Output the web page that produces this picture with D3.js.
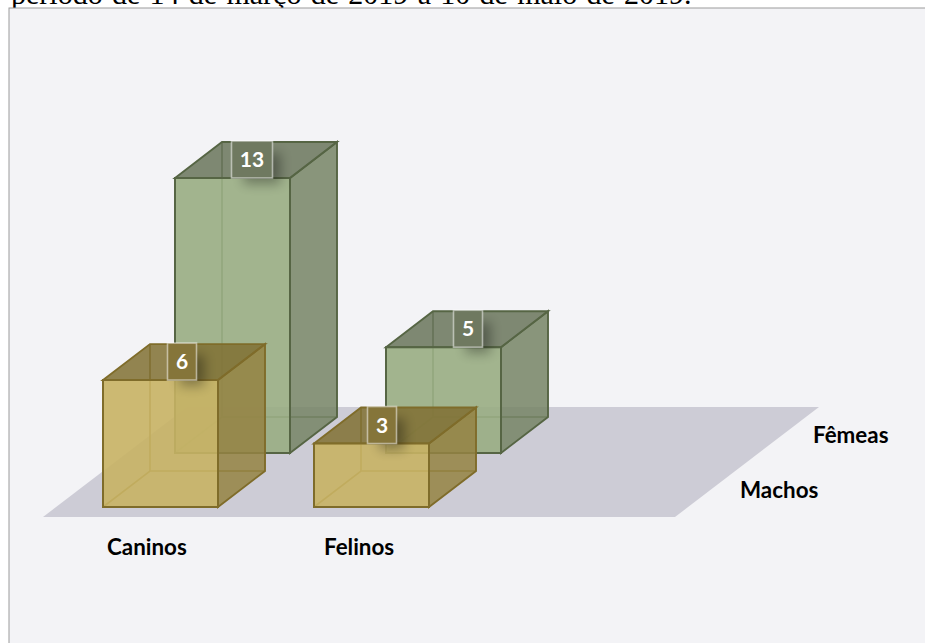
<!DOCTYPE html>
<html>
<head>
<meta charset="utf-8">
<script src="https://cdn.jsdelivr.net/npm/d3@7/dist/d3.min.js"></script>
<style>
    html, body { margin: 0; padding: 0; background: #fff; }
    svg { display: block; }
    .axis-label { font-family: Lato, sans-serif; font-weight: 700; font-size: 22.4px; fill: #000; }
    .value-label { font-family: Lato, sans-serif; font-weight: 700; font-size: 21px; fill: #fff; text-anchor: middle; }
</style>
</head>
<body>
<div id="chart"></div>
<script>
// --- Data ---
const categories = ["Caninos", "Felinos"];
const series = ["Fêmeas", "Machos"];      // back row first, so it draws first
const femeas = [13, 5];
const machos = [6, 3];
const title = "período de 14 de março de 2019 a 10 de maio de 2019.";

const valuesBySeries = { "Fêmeas": femeas, "Machos": machos };

const colors = {
    "Fêmeas": { front: "#99ad83", side: "#758465", top: "#69745a", edge: "#566544" },
    "Machos": { front: "#c8b264", side: "#948342", top: "#807032", edge: "#7f6c2a" }
};

// --- Layout ---
const width = 925, height = 643;
const svg = d3.select("#chart").append("svg").attr("width", width).attr("height", height);

// x of the front-left corner, per category
const x = d3.scalePoint().domain(categories).range([103, 314]);
// bar height
const h = d3.scaleLinear().domain([0, 13]).range([0, 275]);
// depth row: front row sits at the base line, back row is shifted up and right
const rowX = d3.scalePoint().domain(["Machos", "Fêmeas"]).range([0, 72]);
const rowY = d3.scalePoint().domain(["Machos", "Fêmeas"]).range([507, 453]);

const barW = 115, depthX = 47, depthY = -36;
const poly = pts => "M" + pts.map(p => p.join(",")).join("L") + "Z";

const defs = svg.append("defs");
defs.append("filter").attr("id", "soft").attr("x", "-80%").attr("y", "-80%").attr("width", "260%").attr("height", "260%")
    .append("feGaussianBlur").attr("stdDeviation", 6);

// --- Title (cut off by the chart frame, as in the source document) ---
svg.append("text").attr("x", 11).attr("y", 4)
    .attr("font-family", "'Liberation Serif', serif").attr("font-size", 30)
    .attr("word-spacing", 1.8).attr("fill", "#000").text(title);

// --- Frame ---
svg.append("rect").attr("x", 9).attr("y", 8).attr("width", 930).attr("height", 650)
    .attr("fill", "#f3f3f6").attr("stroke", "#9c9c9c").attr("stroke-width", 1);

// --- Floor ---
svg.append("path")
    .attr("d", poly([[43, 517], [675, 517], [819, 407], [187, 407]]))
    .attr("fill", "#cdccd6");

// --- Cubes ---
const labelNudge = { "Fêmeas": [77, 82], "Machos": [79, 68] };
const labelW = v => v > 9 ? 41 : 29;

series.forEach(s => {
    const g = svg.append("g").attr("class", "row-" + s);
    const c = colors[s];

    valuesBySeries[s].forEach((v, i) => {
        const x0 = x(categories[i]) + rowX(s);
        const y0 = rowY(s);
        const y1 = y0 - h(v);
        const x1 = x0 + barW;
        const bx = depthX, by = depthY;

        // Back edges, seen faintly through the faces drawn on top
        const back = g.append("g").attr("fill", "none").attr("stroke", c.edge).attr("stroke-width", 1.6);
        back.append("path").attr("d", `M${x0 + bx},${y1 + by}V${y0 + by}`);
        back.append("path").attr("d", `M${x0},${y0}L${x0 + bx},${y0 + by}H${x1 + bx}`);

        // Side
        g.append("path").attr("d", poly([[x1, y0], [x1 + bx, y0 + by], [x1 + bx, y1 + by], [x1, y1]]))
            .attr("fill", c.side).attr("fill-opacity", 0.85).attr("stroke", c.edge).attr("stroke-width", 1.9);
        // Top
        g.append("path").attr("d", poly([[x0, y1], [x1, y1], [x1 + bx, y1 + by], [x0 + bx, y1 + by]]))
            .attr("fill", c.top).attr("fill-opacity", 0.85).attr("stroke", c.edge).attr("stroke-width", 1.9);
        // Front
        g.append("path").attr("d", poly([[x0, y0], [x1, y0], [x1, y1], [x0, y1]]))
            .attr("fill", c.front).attr("fill-opacity", 0.9).attr("stroke", c.edge).attr("stroke-width", 2);

        // Value tag with its soft shadow
        const cx = x0 + labelNudge[s][i];
        const w = labelW(v), tagH = 37;
        g.append("rect").attr("x", cx - w / 2 + 12).attr("y", y1 - tagH + 12)
            .attr("width", w - 4).attr("height", tagH - 6)
            .attr("fill", "#000").attr("opacity", 0.32).attr("filter", "url(#soft)");
        g.append("rect").attr("x", cx - w / 2).attr("y", y1 - tagH)
            .attr("width", w).attr("height", tagH)
            .attr("fill", d3.interpolateRgb(c.top, "#f3f3f6")(0.04))
            .attr("stroke", "#fff").attr("stroke-opacity", 0.5).attr("stroke-width", 1.6);
        g.append("text").attr("class", "value-label").attr("x", cx).attr("y", y1 - tagH / 2 + 7.5).text(v);
    });
});

// --- Category and series labels ---
svg.append("g").selectAll("text").data(categories).join("text")
    .attr("class", "axis-label")
    .attr("x", d => x(d) + (d === "Caninos" ? 4 : 10))
    .attr("y", 555)
    .text(d => d);

const seriesLabelX = { "Fêmeas": 813, "Machos": 740 };
const seriesLabelY = { "Fêmeas": 443, "Machos": 498 };
svg.append("g").selectAll("text").data(series).join("text")
    .attr("class", "axis-label")
    .attr("x", d => seriesLabelX[d])
    .attr("y", d => seriesLabelY[d])
    .text(d => d);
</script>
</body>
</html>
